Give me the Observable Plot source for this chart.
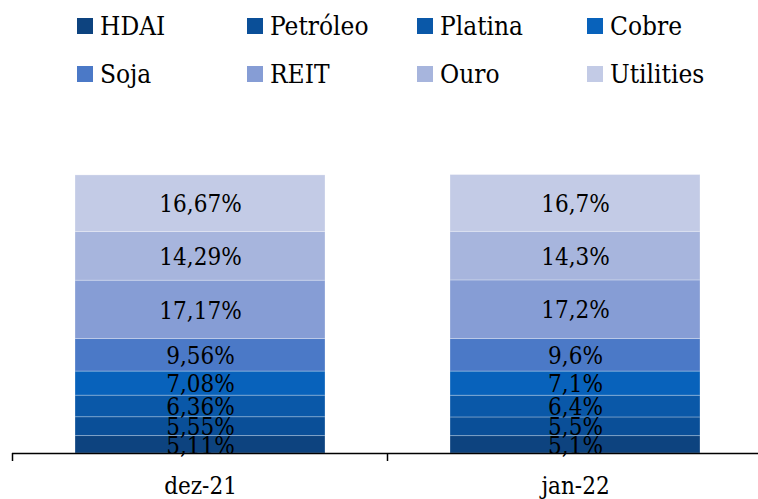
<!DOCTYPE html>
<html><head><meta charset="utf-8">
<script src="https://cdn.jsdelivr.net/npm/d3@7"></script>
<script src="https://cdn.jsdelivr.net/npm/@observablehq/plot@0.6"></script>
<style>
body{margin:0;background:#fff;font-family:"Roboto Slab","DejaVu Serif Condensed","DejaVu Serif",serif;}
#wrap{width:758px;height:499px;position:relative;overflow:hidden;}
#legend{height:100px;position:relative;}
.item{position:absolute;display:flex;align-items:center;font-size:26px;color:#000;height:32px;white-space:nowrap;}
.sw{width:16px;height:16px;margin-right:7px;flex:none;}
</style></head>
<body><div id="wrap"><div id="legend"></div><div id="chart"></div></div>
<script>
const periods = ["dez-21", "jan-22"];
const series = ["HDAI", "Petróleo", "Platina", "Cobre", "Soja", "REIT", "Ouro", "Utilities"];
const dez21 = [5.11, 5.55, 6.36, 7.08, 9.56, 17.17, 14.29, 16.67];
const jan22 = [5.1, 5.5, 6.4, 7.1, 9.6, 17.2, 14.3, 16.7];
const colors = ["#0d437f", "#0a4f98", "#0a58a8", "#0862bb", "#4b79c7", "#869dd5", "#a7b5dd", "#c3cbe6"];

const data = [];
[dez21, jan22].forEach((vals, i) => vals.forEach((v, j) => data.push({
  period: periods[i], series: series[j], value: v,
  label: String(v).replace(".", ",") + "%"
})));

// legend
const leg = document.getElementById("legend");
series.forEach((s, i) => {
  const col = i % 4, row = Math.floor(i / 4);
  const d = document.createElement("div");
  d.className = "item";
  d.style.left = (77 + col * 170) + "px";
  d.style.top = (10 + row * 48) + "px";
  d.innerHTML = `<span class="sw" style="background:${colors[i]}"></span><span>${s}</span>`;
  leg.appendChild(d);
});

const boundaryTicks = (index, scales, values, dims) => {
  const g = d3.create("svg:g");
  const x = scales.x, step = x.step();
  const y0 = scales.y(0);
  const pts = x.domain().map(c => x(c) - (step - x.bandwidth()) / 2);
  pts.push(pts[pts.length - 1] + step);
  pts.forEach(px => g.append("line").attr("x1", px).attr("x2", px)
    .attr("y1", y0).attr("y2", y0 + 8).attr("stroke", "#000").attr("stroke-width", 1.5));
  return g.node();
};

const chart = Plot.plot({
  width: 758, height: 399,
  marginLeft: 12, marginRight: 0, marginTop: 13, marginBottom: 46,
  style: {fontFamily: '"Roboto Slab","DejaVu Serif Condensed","DejaVu Serif",serif', background: "#fff"},
  x: {domain: periods, range: [12, 763], paddingInner: 0.332, paddingOuter: 0.166, align: 0.5, label: null},
  y: {domain: [0, 100], axis: null},
  color: {domain: series, range: colors},
  marks: [
    Plot.barY(data, Plot.stackY({x: "period", y: "value", fill: "series", order: series,
      stroke: "white", strokeWidth: 0.8, strokeOpacity: 0.35})),
    Plot.text(data, Plot.stackY({x: "period", y: "value", z: "series", order: series, text: "label",
      fontSize: 24, fill: "#000", dy: 1})),
    Plot.ruleY([0], {stroke: "#000", strokeWidth: 1.5}),
    boundaryTicks,
    Plot.axisX({tickSize: 0, tickPadding: 23, fontSize: 24, fill: "#000", label: null})
  ]
});
document.getElementById("chart").appendChild(chart);
</script></body></html>
